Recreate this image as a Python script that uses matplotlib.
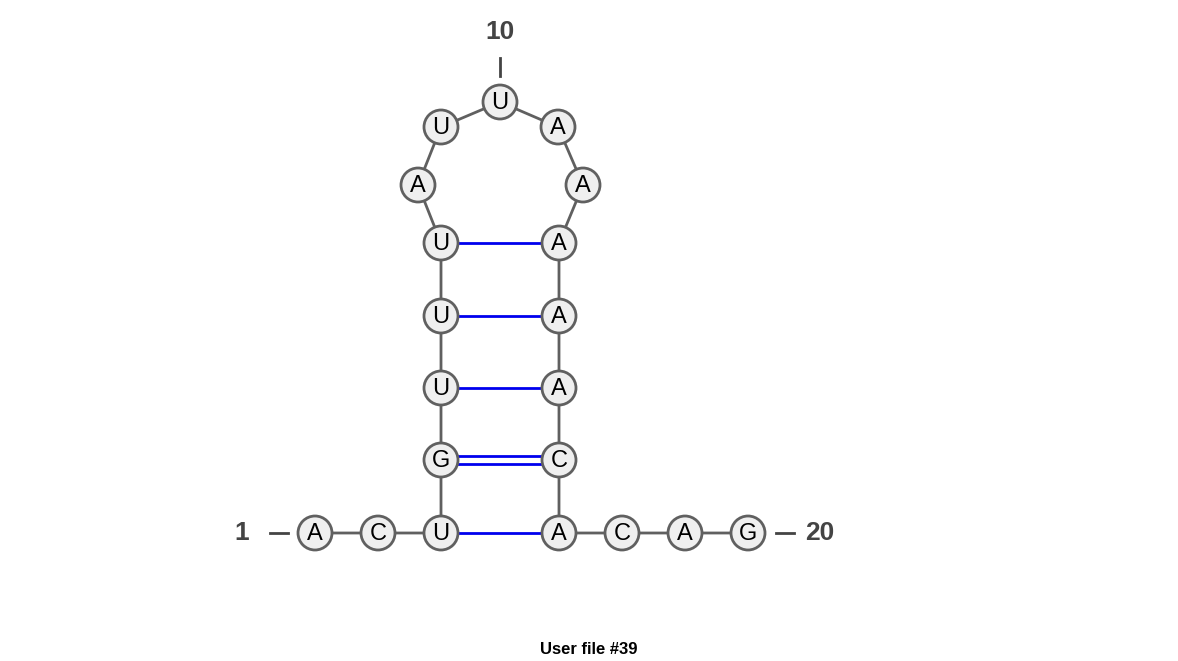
import matplotlib
matplotlib.use("Agg")
import matplotlib.pyplot as plt
from matplotlib.patches import Circle

seq = list("ACUGUUUAUUAAAAACACAG")
xs = [315, 378, 441, 441, 441, 441, 441, 418, 441, 500, 558, 583, 559, 559, 559, 559, 559, 622, 685, 748]
ys = [533, 533, 533, 460, 388, 316, 243, 185, 127, 102, 127, 185, 243, 316, 388, 460, 533, 533, 533, 533]
pairs = [(3, 17, 1), (4, 16, 2), (5, 15, 1), (6, 14, 1), (7, 13, 1)]
title = "User file #39"

fig = plt.figure(figsize=(11.78, 6.61), dpi=100)
ax = fig.add_axes([0, 0, 1, 1])
ax.set_xlim(0, 1178); ax.set_ylim(661, 0); ax.set_aspect("equal"); ax.axis("off")
R = 17
grey = "#606060"
ax.plot(xs, ys, color=grey, lw=2, zorder=1)
for i, j, n in pairs:
    x1, y1, x2, y2 = xs[i-1], ys[i-1], xs[j-1], ys[j-1]
    offs = [0] if n == 1 else [-4, 4]
    for o in offs:
        ax.plot([x1 + R, x2 - R], [y1 + o, y2 + o], color="#0000ee", lw=2, zorder=2)
for x, y, s in zip(xs, ys, seq):
    ax.add_patch(Circle((x, y), R, facecolor="#efefef", edgecolor=grey, lw=2, zorder=3))
    ax.text(x, y + 1, s, ha="center", va="center", fontsize=17, family="Liberation Sans", zorder=4)
lab = dict(fontsize=19, fontweight="bold", color="#444444", family="Liberation Sans")
ax.plot([xs[0]-45, xs[0]-27], [ys[0], ys[0]], color="#444444", lw=2)
ax.text(xs[0]-73, ys[0], "1", ha="center", va="center", **lab)
ax.plot([xs[19]+28, xs[19]+46], [ys[19], ys[19]], color="#444444", lw=2)
ax.text(xs[19]+72, ys[19], "20", ha="center", va="center", **lab)
ax.plot([xs[9], xs[9]], [ys[9]-44, ys[9]-26], color="#444444", lw=2)
ax.text(xs[9], ys[9]-70, "10", ha="center", va="center", **lab)
ax.text(589, 649, title, ha="center", va="center", fontsize=12, fontweight="bold", family="Liberation Sans")
fig.savefig("out.png", dpi=100)
